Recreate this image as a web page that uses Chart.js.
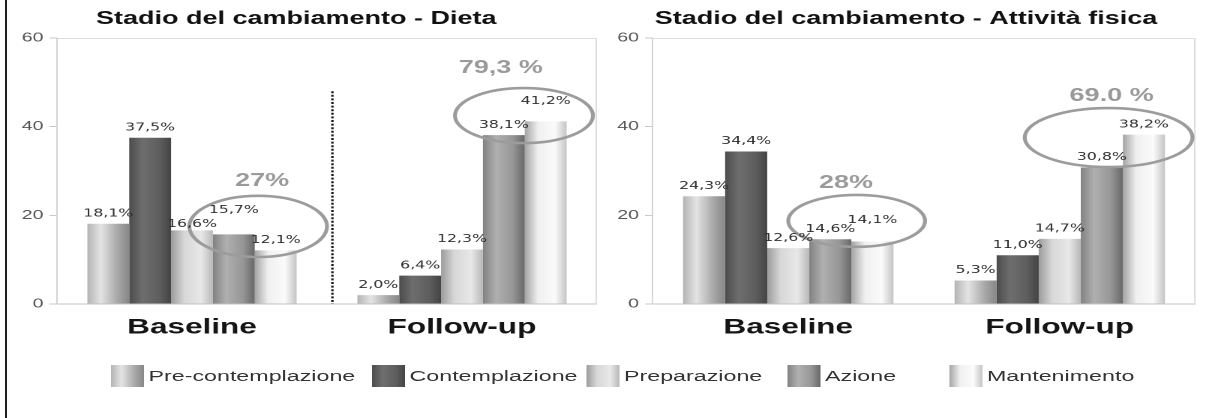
<!DOCTYPE html>
<html lang="it">
<head>
<meta charset="utf-8">
<title>Stadio del cambiamento</title>
<script src="https://cdn.jsdelivr.net/npm/chart.js@4.4.1/dist/chart.umd.min.js"></script>
<style>
  html, body { margin: 0; padding: 0; background: #fff; }
  body { width: 1212px; height: 418px; position: relative; overflow: hidden; font-family: 'Liberation Sans', Arial, sans-serif; }
  .frame-line { position: absolute; left: 5px; top: 0; width: 2px; height: 418px; background: #1e1e1e; }
  /* the source picture is stretched sideways, so the whole stage is too */
  .stage { position: absolute; left: 0; top: 0; width: 808px; height: 418px; transform: scaleX(1.5); transform-origin: 0 0; }
  .panel { position: absolute; top: 0; height: 344px; }
  #panelDieta { left: -3px; width: 401px; }
  #panelFisica { left: 411px; width: 386px; }
  .legend { position: absolute; top: 365px; left: 0; width: 808px; height: 22px; margin: 0; padding: 0; list-style: none; }
  .legend li { position: absolute; top: 0; height: 22px; display: flex; align-items: center; font-size: 15.5px; color: #333; white-space: nowrap; }
  .legend__swatch { width: 22px; height: 22px; margin-right: 3px; flex: none; }
</style>
</head>
<body>
<div class="frame-line"></div>
<div class="stage">
  <div class="panel" id="panelDieta"><canvas id="chartDieta"></canvas></div>
  <div class="panel" id="panelFisica"><canvas id="chartFisica"></canvas></div>
  <ul class="legend" id="legend"></ul>
</div>

<script>
/* ===== Data ===== */
const categories = ['Baseline', 'Follow-up'];
const stages = ['Pre-contemplazione', 'Contemplazione', 'Preparazione', 'Azione', 'Mantenimento'];

const dietaBaseline = [18.1, 37.5, 16.6, 15.7, 12.1];
const dietaFollowUp = [2.0, 6.4, 12.3, 38.1, 41.2];
const dietaTotals = ['27%', '79,3 %'];

const fisicaBaseline = [24.3, 34.4, 12.6, 14.6, 14.1];
const fisicaFollowUp = [5.3, 11.0, 14.7, 30.8, 38.2];
const fisicaTotals = ['28%', '69.0 %'];

const yTicks = [0, 20, 40, 60];

/* ===== Styles ===== */
const sans = "'Liberation Sans', Arial, sans-serif";
const labelFont = "'DejaVu Sans', Verdana, sans-serif";
const shadeStops = [0, 0.32, 0.72, 1];
const stageShades = [
  ['#b4b4b4', '#e4e4e4', '#a8a8a8', '#878787'],
  ['#4c4c4c', '#6e6e6e', '#5e5e5e', '#444444'],
  ['#9c9c9c', '#d8d8d8', '#e8e8e8', '#b8b8b8'],
  ['#828282', '#b0b0b0', '#969696', '#686868'],
  ['#a4a4a4', '#f0f0f0', '#fbfbfb', '#c4c4c4']
];
const legendLeft = [74, 248, 391, 525, 633];

/* ===== Annotation layout (data units) ===== */
const dietaNotes = {
  yAxisWidth: 41,
  separator: { x: 0.52, top: 48 },
  rings: [
    { x: [-0.01, 0.5], y: [10.6, 24.4], label: [0.26, 27.7] },
    { x: [0.974, 1.485], y: [36.3, 48.7], label: [1.144, 53.2] }
  ],
  lift: { '3:0': 14, '2:0': -4, '4:1': 10 }
};

const fisicaNotes = {
  yAxisWidth: 24,
  separator: null,
  rings: [
    { x: [0.0, 0.504], y: [12.9, 24.6], label: [0.213, 27.3] },
    { x: [0.871, 1.489], y: [30.9, 44.2], label: [1.191, 46.9] }
  ],
  lift: { '4:0': 11 }
};

const fmt = v => v.toFixed(1).replace('.', ',') + '%';

/* ===== Plugin: shaded bars, frame, rings, labels ===== */
function makeNotesPlugin(notes, totals) {
  return {
    id: 'notes',
    beforeDatasetsDraw(chart) {
      const { ctx, chartArea: a } = chart;
      ctx.save();
      ctx.strokeStyle = '#dddddd';
      ctx.lineWidth = 1;
      ctx.beginPath();
      ctx.moveTo(a.left, a.top + 0.5);
      ctx.lineTo(a.right - 0.5, a.top + 0.5);
      ctx.lineTo(a.right - 0.5, a.bottom);
      ctx.stroke();
      ctx.restore();

      chart.data.datasets.forEach((ds, di) => {
        chart.getDatasetMeta(di).data.forEach(bar => {
          const left = bar.x - bar.width / 2;
          const g = ctx.createLinearGradient(left, 0, left + bar.width, 0);
          shadeStops.forEach((s, k) => g.addColorStop(s, stageShades[di][k]));
          bar.options = Object.assign({}, bar.options, { backgroundColor: g });
        });
      });
    },
    afterDatasetsDraw(chart) {
      const { ctx } = chart;
      const xs = chart.scales.x, ys = chart.scales.y;
      ctx.save();

      if (notes.separator) {
        const px = xs.getPixelForValue(notes.separator.x);
        ctx.strokeStyle = '#1a1a1a';
        ctx.lineWidth = 1.6;
        ctx.setLineDash([2, 1.6]);
        ctx.beginPath();
        ctx.moveTo(px, ys.getPixelForValue(notes.separator.top));
        ctx.lineTo(px, ys.getPixelForValue(0));
        ctx.stroke();
        ctx.setLineDash([]);
      }

      notes.rings.forEach((r, i) => {
        const x0 = xs.getPixelForValue(r.x[0]), x1 = xs.getPixelForValue(r.x[1]);
        const y0 = ys.getPixelForValue(r.y[0]), y1 = ys.getPixelForValue(r.y[1]);
        ctx.strokeStyle = '#9c9c9c';
        ctx.lineWidth = 2.6;
        ctx.beginPath();
        ctx.ellipse((x0 + x1) / 2, (y0 + y1) / 2, Math.abs(x1 - x0) / 2, Math.abs(y0 - y1) / 2, 0, 0, Math.PI * 2);
        ctx.stroke();

        ctx.fillStyle = '#9a9a9a';
        ctx.font = `bold 18px ${sans}`;
        ctx.textAlign = 'center';
        ctx.textBaseline = 'middle';
        ctx.fillText(totals[i], xs.getPixelForValue(r.label[0]), ys.getPixelForValue(r.label[1]));
      });

      ctx.fillStyle = '#303030';
      ctx.font = `10.5px ${labelFont}`;
      ctx.textAlign = 'center';
      ctx.textBaseline = 'middle';
      chart.data.datasets.forEach((ds, di) => {
        chart.getDatasetMeta(di).data.forEach((bar, i) => {
          const lift = notes.lift[`${di}:${i}`] || 0;
          ctx.fillText(fmt(ds.data[i]), bar.x, bar.y - 10 - lift);
        });
      });
      ctx.restore();
    }
  };
}

/* ===== Chart factory ===== */
function buildChart(canvasId, titleText, baseline, followUp, totals, notes) {
  const ctx = document.getElementById(canvasId);
  if (!ctx) return;

  new Chart(ctx, {
    type: 'bar',
    data: {
      labels: categories,
      datasets: stages.map((stage, i) => ({
        label: stage,
        data: [baseline[i], followUp[i]],
        backgroundColor: stageShades[i][1],
        borderWidth: 0,
        barPercentage: 1,
        categoryPercentage: 0.775
      }))
    },
    options: {
      responsive: true,
      maintainAspectRatio: false,
      devicePixelRatio: 2,
      animation: false,
      events: [],
      layout: { padding: 0 },
      scales: {
        x: {
          grid: { display: false, drawTicks: false },
          border: { display: true, color: '#c2c2c2' },
          ticks: {
            color: '#151515',
            padding: 11,
            font: { family: sans, size: 21, weight: 'bold' }
          },
          afterFit: s => { s.height = 40; }
        },
        y: {
          min: 0,
          max: 60,
          grid: { drawOnChartArea: false, tickLength: 5, color: '#c8c8c8' },
          border: { display: true, color: '#d4d4d4' },
          ticks: {
            color: '#555',
            padding: 4,
            font: { family: sans, size: 13 }
          },
          afterBuildTicks: s => { s.ticks = yTicks.map(v => ({ value: v })); },
          afterFit: s => { s.width = notes.yAxisWidth; }
        }
      },
      plugins: {
        legend: { display: false },
        tooltip: { enabled: false },
        title: {
          display: true,
          text: titleText,
          color: '#111',
          font: { family: sans, size: 18, weight: 'bold' },
          padding: { top: 8, bottom: 8.4 }
        }
      }
    },
    plugins: [makeNotesPlugin(notes, totals)]
  });
}

/* ===== Legend ===== */
function buildLegend() {
  const el = document.getElementById('legend');
  if (!el) return;
  el.innerHTML = stages.map((stage, i) => {
    const stops = stageShades[i].map((c, k) => `${c} ${shadeStops[k] * 100}%`).join(', ');
    return `<li style="left:${legendLeft[i]}px">
      <span class="legend__swatch" style="background:linear-gradient(to right, ${stops})"></span>${stage}
    </li>`;
  }).join('');
}

/* ===== Init ===== */
buildChart('chartDieta', 'Stadio del cambiamento - Dieta', dietaBaseline, dietaFollowUp, dietaTotals, dietaNotes);
buildChart('chartFisica', 'Stadio del cambiamento - Attività fisica', fisicaBaseline, fisicaFollowUp, fisicaTotals, fisicaNotes);
buildLegend();
</script>
</body>
</html>
